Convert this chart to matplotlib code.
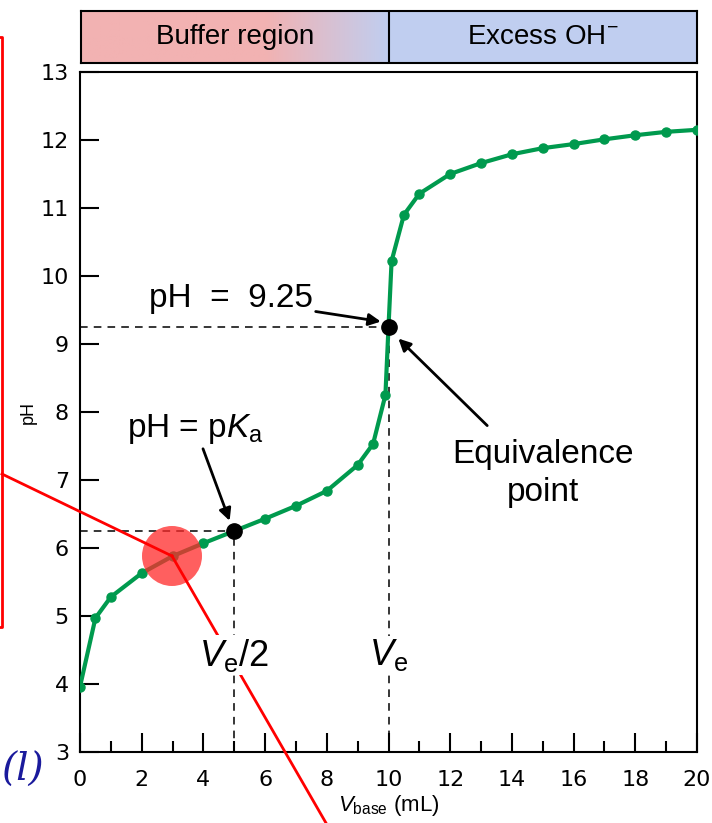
import matplotlib
matplotlib.use('Agg')
import matplotlib.pyplot as plt
from matplotlib.patches import Ellipse, Rectangle
from matplotlib.ticker import MultipleLocator
import numpy as np

plt.rcParams['font.family'] = 'Liberation Sans'
plt.rcParams['mathtext.fontset'] = 'custom'
plt.rcParams['mathtext.rm'] = 'Liberation Sans'
plt.rcParams['mathtext.it'] = 'Liberation Sans:italic'

# titration data
v_base = [0, 0.5, 1, 2, 3, 4, 5, 6, 7, 8, 9, 9.5, 9.9, 10, 10.1, 10.5,
          11, 12, 13, 14, 15, 16, 17, 18, 19, 20]
ph = [3.96, 4.97, 5.28, 5.63, 5.88, 6.07, 6.25, 6.43, 6.62, 6.84, 7.22, 7.53,
      8.25, 9.25, 10.22, 10.90, 11.21, 11.50, 11.66, 11.79, 11.88, 11.94,
      12.01, 12.07, 12.12, 12.15]
half_eq = (5, 6.25)
equiv = (10, 9.25)
regions = ['Buffer region', 'Excess OH$^{-}$']

W, H = 712, 823
fig = plt.figure(figsize=(W / 100, H / 100), dpi=100)


def fx(px):
    return px / W


def fy(py):
    return 1 - py / H


ax = fig.add_axes([fx(80), fy(752), fx(697) - fx(80), fy(72) - fy(752)])

green = '#009a4e'
ax.plot(v_base, ph, color=green, lw=3, marker='o', ms=6.5, zorder=3)
ax.plot(*half_eq, 'o', color='black', ms=11, zorder=4)
ax.plot(*equiv, 'o', color='black', ms=11, zorder=4)

# dashed guide lines
dash = dict(color='black', lw=1.1, ls=(0, (5, 4)), zorder=2)
ax.plot([0, half_eq[0]], [half_eq[1]] * 2, **dash)
ax.plot([half_eq[0]] * 2, [3, half_eq[1]], **dash)
ax.plot([0, equiv[0]], [equiv[1]] * 2, **dash)
ax.plot([equiv[0]] * 2, [3, equiv[1]], **dash)

ax.set_xlim(0, 20)
ax.set_ylim(3, 13)
ax.xaxis.set_major_locator(MultipleLocator(2))
ax.xaxis.set_minor_locator(MultipleLocator(1))
ax.yaxis.set_major_locator(MultipleLocator(1))
ax.tick_params(axis='both', which='major', direction='in', length=14,
               width=1.5, labelsize=16, pad=8)
ax.tick_params(axis='x', which='minor', direction='in', length=8, width=1.5)
ax.tick_params(axis='x', which='major', pad=13)
for lab in ax.get_xticklabels() + ax.get_yticklabels():
    lab.set_family('DejaVu Sans')
for s in ax.spines.values():
    s.set_linewidth(1.5)

ax.set_ylabel('pH', fontsize=13, labelpad=3)
ax.set_xlabel(r'$V_\mathrm{base}$ (mL)', fontsize=16)
ax.xaxis.set_label_coords(0.5, -0.06)
ax.xaxis.label.set_va('top')

# annotations
arrow = dict(arrowstyle='-|>', color='black', lw=2, mutation_scale=18,
             shrinkA=0, shrinkB=0)
ax.annotate('pH  =  9.25', xy=(9.75, 9.33), xytext=(7.55, 9.67),
            fontsize=24, ha='right', va='center', arrowprops=arrow)
ax.annotate('pH = p$K_\\mathrm{a}$', xy=(4.85, 6.4), xytext=(3.75, 7.5),
            fontsize=24, ha='center', va='bottom', arrowprops=arrow)
ax.text(15.0, 7.1, 'Equivalence\npoint', fontsize=24, ha='center',
        va='center', linespacing=1.3)
ax.annotate('', xy=(10.32, 9.08), xytext=(13.2, 7.8), arrowprops=arrow)
box = dict(facecolor='white', edgecolor='none', pad=1)
ax.text(half_eq[0], 4.42, r'$V_\mathrm{e}$/2', fontsize=26, ha='center',
        va='center', bbox=box, zorder=7)
ax.text(equiv[0], 4.42, r'$V_\mathrm{e}$', fontsize=26, ha='center',
        va='center', bbox=box, zorder=7)

# region bar above the plot
axt = fig.add_axes([fx(81), fy(63), fx(697) - fx(81), fy(11) - fy(63)])
pink = np.array([242, 178, 178]) / 255
blue = np.array([192, 206, 240]) / 255
xs = np.linspace(0, 10, 300)
t = np.clip((xs - 6.0) / 4.0, 0, 1)[:, None]
grad = (pink * (1 - t) + blue * t)[None, :, :]
axt.imshow(grad, extent=[0, 10, 0, 1], aspect='auto', zorder=0)
axt.add_patch(Rectangle((10, 0), 10, 1, color=blue, zorder=0))
axt.axvline(10, color='black', lw=1.5)
axt.set_xlim(0, 20)
axt.set_ylim(0, 1)
axt.set_xticks([])
axt.set_yticks([])
for s in axt.spines.values():
    s.set_linewidth(1.5)
axt.text(5, 0.5, regions[0], fontsize=20, ha='center', va='center')
axt.text(15, 0.5, regions[1], fontsize=20, ha='center', va='center')

# red overlay marks
red = '#ff0000'
ov = dict(color=red, lw=2, transform=fig.transFigure, clip_on=False, zorder=6)
ax.plot([fx(-5), fx(2), fx(2), fx(-5)], [fy(37), fy(37), fy(627), fy(627)], **ov)
ax.plot([fx(2), fx(172)], [fy(474), fy(556)], **ov)
ax.plot([fx(172), fx(326)], [fy(556), fy(823)], **ov)
ax.add_patch(Ellipse((fx(172), fy(556)), 60 / W, 60 / H, transform=fig.transFigure,
                     facecolor='#ff2a2a', alpha=0.75, edgecolor='none',
                     clip_on=False, zorder=5))

fig.text(fx(23), fy(770), '(l)', fontsize=28, family='DejaVu Serif',
         style='italic', color='#1a1a9c', ha='center', va='center')

fig.savefig('out.png', dpi=100)
